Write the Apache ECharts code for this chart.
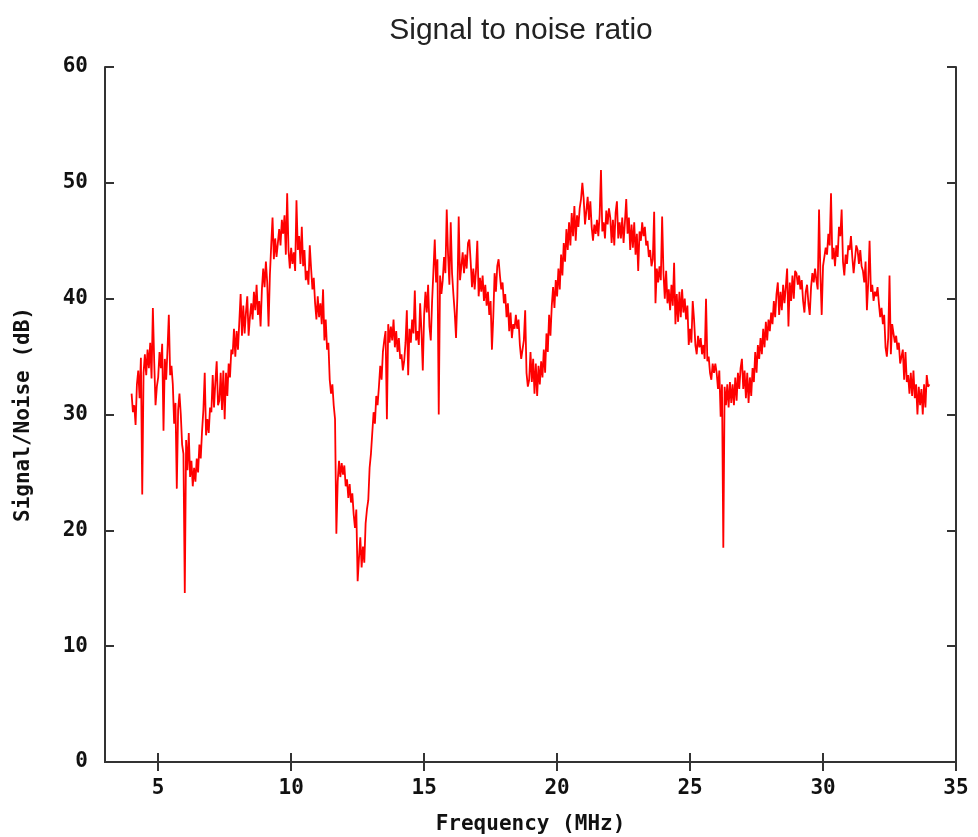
<!DOCTYPE html>
<html>
<head>
<meta charset="utf-8">
<script src="https://cdn.jsdelivr.net/npm/echarts@6/dist/echarts.min.js"></script>
<style>html,body{margin:0;padding:0;background:#fff;}#chart{width:978px;height:837px;}</style>
</head>
<body>
<div id="chart"></div>
<script>
// Sampling grid of the measurement (MHz)
const freqStart = 4.0;
const freqStep = 0.05;
// Signal/Noise (dB), one row per MHz (20 samples each)
const snr4  = [31.8,30.2,30.8,29.1,32.6,33.8,31.4,34.9,23.1,33.6,35.2,33.4,35.6,34.0,36.2,33.1,39.2,34.6,30.8,32.4];
const snr5  = [33.2,35.4,34.0,36.1,28.6,34.8,33.0,35.6,38.6,33.4,34.2,32.6,29.2,31.0,23.6,30.4,31.8,30.0,27.4,26.6];
const snr6  = [14.6,27.8,25.2,28.4,24.6,26.0,23.8,25.4,24.2,26.2,25.0,27.4,26.2,28.6,30.4,33.6,28.2,29.6,28.4,30.6];
const snr7  = [30.2,33.4,30.6,32.8,34.6,30.8,31.2,33.6,30.4,33.8,29.6,33.6,31.6,34.4,33.2,35.6,35.2,37.4,35.0,37.2];
const snr8  = [35.6,38.0,40.4,36.8,39.4,37.0,38.8,40.2,36.8,38.4,39.6,38.2,40.6,39.0,41.2,38.6,39.8,37.6,40.8,42.6];
const snr9  = [41.0,43.2,41.4,37.6,42.0,44.6,47.0,43.4,45.2,43.6,44.8,46.0,44.6,46.8,45.6,47.2,43.8,49.1,44.2,42.6];
const snr10 = [44.4,43.0,44.0,42.4,48.5,44.2,45.4,43.0,46.2,42.8,44.2,41.6,42.4,41.2,44.6,42.6,40.8,41.8,39.6,38.2];
const snr11 = [40.2,38.4,39.6,37.8,40.8,36.4,38.2,35.6,36.2,33.0,31.8,32.6,30.8,29.6,19.7,24.2,26.0,24.6,25.8,24.8];
const snr12 = [25.6,23.8,24.4,22.8,24.0,22.4,23.2,21.4,20.2,21.8,15.6,17.6,19.4,16.8,18.6,17.2,20.6,21.8,22.6,25.4];
const snr13 = [26.6,28.4,30.2,29.2,31.6,30.8,32.4,34.2,33.0,35.4,36.4,37.2,29.6,37.8,36.2,37.6,36.4,38.2,35.8,37.2];
const snr14 = [35.4,36.6,34.8,35.2,33.8,34.6,36.2,39.0,33.4,37.4,36.2,38.2,37.0,40.7,36.4,37.2,36.0,39.6,37.2,33.8];
const snr15 = [38.6,40.6,38.8,41.2,37.6,36.4,39.8,42.4,45.1,41.4,43.4,30.0,42.0,40.4,41.6,43.6,42.2,47.7,43.8,41.2];
const snr16 = [46.6,42.2,40.4,38.8,36.6,40.2,47.1,41.6,42.8,44.0,42.2,43.8,42.6,44.8,45.1,43.2,41.0,42.6,40.8,42.4];
const snr17 = [45.0,40.2,41.8,40.6,42.0,39.8,41.2,39.4,40.6,38.6,39.8,35.6,38.4,42.2,40.6,42.8,43.4,42.0,40.8,41.4];
const snr18 = [39.6,40.4,38.4,39.6,37.2,38.8,36.6,37.8,37.4,38.6,37.4,38.2,36.0,34.8,35.6,36.4,39.0,33.6,32.4,33.0];
const snr19 = [35.4,32.8,34.8,31.8,34.4,31.6,34.2,32.6,34.6,33.2,35.6,33.6,37.0,35.4,38.6,36.8,39.4,41.0,39.2,41.6];
const snr20 = [40.2,42.6,40.8,43.8,42.0,44.8,43.2,46.0,44.2,46.6,44.6,47.4,45.4,48.0,45.0,47.2,46.2,47.8,48.6,50.0];
const snr21 = [48.6,46.4,47.6,48.8,46.8,48.4,46.2,45.0,46.4,45.6,46.8,45.4,47.2,51.1,45.8,46.6,45.2,47.6,46.4,47.8];
const snr22 = [47.0,44.8,46.8,44.6,47.4,48.4,45.2,46.6,45.2,47.0,44.8,46.6,48.6,45.6,47.0,44.2,46.4,44.4,46.6,43.8];
const snr23 = [45.6,42.4,45.8,45.0,46.6,45.4,46.2,44.6,45.0,43.6,44.2,42.8,43.4,47.5,39.6,42.6,41.4,42.8,41.6,47.1];
const snr24 = [42.2,40.0,42.4,39.6,40.8,39.0,41.2,39.4,43.1,37.8,40.4,38.0,40.6,38.4,40.8,38.8,40.0,38.2,39.4,36.0];
const snr25 = [37.4,36.2,39.8,38.2,36.0,35.2,36.8,35.8,36.6,35.2,36.0,34.8,40.0,34.6,35.0,33.6,33.0,34.4,33.6,34.4];
const snr26 = [33.6,32.2,33.8,29.8,32.6,18.5,32.4,30.8,32.6,30.6,32.8,31.0,32.6,30.8,33.2,31.2,33.6,32.2,34.0,34.8];
const snr27 = [32.2,33.8,31.4,33.6,31.0,33.2,31.6,34.0,32.8,35.4,33.6,36.0,34.8,36.6,35.2,37.4,35.8,38.0,36.4,38.2];
const snr28 = [37.2,38.8,37.8,39.8,38.4,40.4,41.4,38.6,40.6,39.0,41.2,39.6,41.0,42.6,37.6,41.4,39.8,42.0,40.0,42.4];
const snr29 = [42.2,41.2,42.0,40.8,41.6,39.8,38.8,40.6,41.2,39.6,38.6,41.0,42.2,41.4,42.6,41.6,40.8,47.7,42.2,38.6];
const snr30 = [42.8,43.6,44.4,43.8,45.6,44.6,49.1,43.4,44.4,42.8,44.6,43.6,46.2,45.4,47.7,43.2,42.0,43.8,43.0,44.6];
const snr31 = [44.2,45.4,43.6,42.2,43.4,44.6,44.2,43.0,44.2,42.8,42.4,41.4,43.2,39.0,41.4,45.0,40.6,41.2,39.8,40.6];
const snr32 = [40.2,41.0,39.6,38.4,39.2,37.8,38.6,35.8,35.0,36.6,42.0,35.2,37.8,37.0,36.2,36.8,35.6,36.2,34.4,35.0];
const snr33 = [35.6,33.0,35.4,32.8,33.4,31.8,33.6,31.6,33.8,31.4,32.6,30.0,32.4,30.8,32.2,30.0,32.6,30.6,33.4,32.4];
const snr34 = [32.6];

const xTicks = [5, 10, 15, 20, 25, 30, 35];
const yTicks = [0, 10, 20, 30, 40, 50, 60];

const snr = [].concat(snr4, snr5, snr6, snr7, snr8, snr9, snr10, snr11, snr12, snr13, snr14, snr15,
  snr16, snr17, snr18, snr19, snr20, snr21, snr22, snr23, snr24, snr25, snr26, snr27, snr28,
  snr29, snr30, snr31, snr32, snr33, snr34);
const points = snr.map((v, i) => [+(freqStart + i * freqStep).toFixed(2), v]);

const monoFont = '"DejaVu Sans Mono", monospace';
const lineStyle = { color: '#333', width: 2 };
const tickStyle = { color: '#333', width: 2 };

const chart = echarts.init(document.getElementById('chart'), null, { renderer: 'canvas' });
chart.setOption({
  backgroundColor: '#ffffff',
  animation: false,
  title: {
    text: 'Signal to noise ratio',
    left: 516, top: 11, textAlign: 'center',
    textStyle: { fontFamily: '"Liberation Sans", Arial, sans-serif', fontSize: 30, fontWeight: 'normal', color: '#222' }
  },
  grid: { left: 105, right: 22, top: 67, bottom: 75, containLabel: false, outerBoundsMode: 'none' },
  xAxis: [{
    type: 'value', min: 3, max: 35, position: 'bottom',
    name: 'Frequency (MHz)', nameLocation: 'middle', nameGap: 52,
    nameTextStyle: { fontFamily: monoFont, fontSize: 21, fontWeight: 'bold', color: '#111' },
    axisLine: { show: true, lineStyle: lineStyle },
    axisTick: { show: true, inside: true, length: 9, lineStyle: tickStyle, customValues: xTicks },
    axisLabel: { show: true, margin: 16, customValues: xTicks, fontFamily: monoFont, fontSize: 21, fontWeight: 'bold', color: '#111' },
    splitLine: { show: false }
  }, {
    type: 'value', min: 3, max: 35, position: 'top',
    axisLine: { show: true, lineStyle: lineStyle },
    axisTick: { show: true, inside: true, length: 9, lineStyle: tickStyle, customValues: xTicks },
    axisLabel: { show: false },
    splitLine: { show: false }
  }],
  yAxis: [{
    type: 'value', min: 0, max: 60, interval: 10, position: 'left',
    name: 'Signal/Noise (dB)', nameLocation: 'middle', nameGap: 71, nameRotate: 90,
    nameTextStyle: { fontFamily: monoFont, fontSize: 21, fontWeight: 'bold', color: '#111' },
    axisLine: { show: true, lineStyle: lineStyle },
    axisTick: { show: true, inside: true, length: 9, lineStyle: tickStyle, customValues: yTicks },
    axisLabel: { show: true, margin: 17, customValues: yTicks, fontFamily: monoFont, fontSize: 21, fontWeight: 'bold', color: '#111' },
    splitLine: { show: false }
  }, {
    type: 'value', min: 0, max: 60, interval: 10, position: 'right',
    axisLine: { show: true, lineStyle: lineStyle },
    axisTick: { show: true, inside: true, length: 9, lineStyle: tickStyle, customValues: yTicks },
    axisLabel: { show: false },
    splitLine: { show: false }
  }],
  series: [{
    type: 'line',
    data: points,
    xAxisIndex: 0, yAxisIndex: 0,
    showSymbol: false,
    smooth: false,
    lineStyle: { color: '#ff0000', width: 1.8 },
    emphasis: { disabled: true }
  }]
});
</script>
</body>
</html>
